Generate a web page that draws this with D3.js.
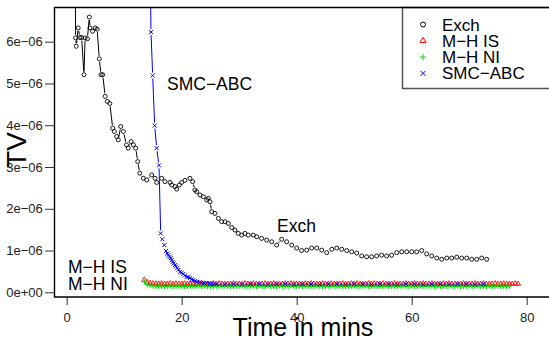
<!DOCTYPE html>
<html>
<head>
<meta charset="utf-8">
<script src="https://cdn.jsdelivr.net/npm/d3@7"></script>
<style>
  body { margin: 0; background: #fff; }
  text { font-family: "Liberation Sans", Arial, Helvetica, sans-serif; }
</style>
</head>
<body>
<div id="chart"></div>
<script>
// TV values are in units of 1e-06
const exchTime = [1.45,1.55,1.67,2.0,2.3,2.6,3.0,3.2,3.6,3.93,
  4.05,4.5,4.97,5.3,5.67,5.97,6.26,6.7,7.06,7.5,
  8.0,8.28,8.7,8.97,9.4,9.85,10.4,10.7,11.2,11.6,
  12.0,12.35,12.7,13.32,13.91,14.78,15.36,15.65,16.52,17.1,
  17.97,18.26,18.83,19.13,19.58,20.0,20.57,21.44,21.9,22.3,
  22.6,23.18,23.76,24.35,24.63,24.92,25.22,25.79,26.37,26.96,
  27.53,28.1,28.7,29.27,29.84,30.43,31.0,31.58,32.45,33.04,
  33.9,34.78,35.65,36.52,37.39,38.26,39.13,40.0,40.87,41.74,
  42.6,43.48,44.35,45.22,46.1,46.96,47.83,48.7,49.57,50.43,
  51.3,52.17,53.04,53.9,54.78,55.65,56.52,57.4,58.26,59.13,
  60.0,60.87,61.74,62.6,63.48,64.35,65.22,66.1,66.96,67.83,
  68.7,69.57,70.43,71.3,72.17,73.04];
const exchTV = [9.0,6.09,5.89,6.33,6.10,6.10,5.21,6.09,6.07,6.59,
  6.33,6.25,6.33,6.30,5.59,5.21,5.21,4.69,4.57,4.52,
  3.93,3.85,3.73,3.65,3.97,3.85,3.53,3.45,3.61,3.53,
  3.45,3.13,2.85,2.73,2.69,2.81,2.73,2.63,2.73,2.65,
  2.63,2.57,2.53,2.47,2.57,2.63,2.68,2.73,2.65,2.45,
  2.41,2.33,2.29,2.21,2.25,2.17,1.93,1.89,1.77,1.69,
  1.69,1.65,1.55,1.49,1.41,1.37,1.41,1.37,1.37,1.33,
  1.29,1.25,1.21,1.13,1.27,1.21,1.13,1.06,1.0,1.01,
  1.06,1.06,1.01,0.95,1.03,1.06,1.03,1.0,0.97,0.94,
  0.87,0.85,0.85,0.87,0.89,0.87,0.89,0.95,0.97,0.97,
  0.97,0.97,1.0,0.92,0.87,0.82,0.79,0.82,0.82,0.84,
  0.82,0.82,0.79,0.79,0.82,0.79];

const smcTime = [14.5,14.66,14.95,15.3,15.65,16.05,16.35,16.63,16.98,17.27,
  17.5,17.67,17.9,18.09,18.25,18.43,18.6,18.83,19.0,19.23,
  19.45,19.7,20.0,20.28,20.55,20.87,21.15,21.44,21.7,22.0,
  22.35,22.7,23.1,23.48,23.9,24.35,24.8,25.2,25.65,26.1,
  27.5,29,30.5,32,33.5,35,36.5,38,39.5,41,
  42.5,44,45.5,47,48.5,50,51.5,53,54.5,56,
  57.5,59,60.5,62,63.5,65,66.5,68,69.5,71,72.5];
const smcTV = [8.0,6.23,5.19,3.99,3.45,3.04,1.41,1.27,1.13,0.99,
  0.93,0.89,0.85,0.82,0.77,0.73,0.69,0.65,0.62,0.58,
  0.54,0.49,0.47,0.44,0.40,0.37,0.36,0.34,0.31,0.29,
  0.27,0.25,0.24,0.23,0.22,0.22,0.21,0.20,0.20,0.20,
  0.19,0.2,0.19,0.2,0.2,0.19,0.2,0.2,0.19,0.2,
  0.2,0.19,0.2,0.2,0.19,0.2,0.2,0.19,0.2,0.2,
  0.19,0.2,0.2,0.19,0.2,0.2,0.19,0.2,0.2,0.19,0.2];

const mhTime = [13.5,14,14.5,15,15.5,16,16.5,17,17.5,18,
  18.5,19,19.5,20,20.5,21,21.5,22,22.5,23,
  23.5,24,24.5,25,25.5,26,26.5,27,27.5,28,
  28.5,29,29.5,30,30.5,31,31.5,32,32.5,33,
  33.5,34,34.5,35,35.5,36,36.5,37,37.5,38,
  38.5,39,39.5,40,40.5,41,41.5,42,42.5,43,
  43.5,44,44.5,45,45.5,46,46.5,47,47.5,48,
  48.5,49,49.5,50,50.5,51,51.5,52,52.5,53,
  53.5,54,54.5,55,55.5,56,56.5,57,57.5,58,
  58.5,59,59.5,60,60.5,61,61.5,62,62.5,63,
  63.5,64,64.5,65,65.5,66,66.5,67,67.5,68,
  68.5,69,69.5,70,70.5,71,71.5,72,72.5,73,
  73.5,74,74.5,75,75.5,76,76.5,77,77.5,78,78.5];
const mhIsTV = [0.30,0.24,0.22,0.21,0.21,0.20,0.21,0.20,0.20,0.21,
  0.20,0.21,0.20,0.20,0.21,0.20,0.20,0.21,0.20,0.20,
  0.21,0.20,0.20,0.20,0.21,0.20,0.21,0.20,0.20,0.20,
  0.20,0.21,0.20,0.20,0.20,0.21,0.20,0.20,0.21,0.20,
  0.20,0.20,0.21,0.20,0.20,0.21,0.20,0.20,0.20,0.21,
  0.20,0.21,0.20,0.20,0.20,0.20,0.21,0.20,0.21,0.20,
  0.20,0.20,0.21,0.20,0.20,0.21,0.20,0.20,0.20,0.21,
  0.20,0.20,0.21,0.20,0.21,0.20,0.20,0.20,0.21,0.20,
  0.21,0.20,0.20,0.21,0.20,0.20,0.20,0.21,0.20,0.20,
  0.20,0.21,0.20,0.20,0.21,0.20,0.20,0.21,0.20,0.20,
  0.21,0.20,0.20,0.20,0.21,0.20,0.21,0.20,0.20,0.20,
  0.20,0.21,0.20,0.20,0.20,0.21,0.20,0.20,0.21,0.20,
  0.20,0.20,0.21,0.20,0.20,0.21,0.20,0.20,0.20,0.21,0.20];
const mhNiTV = [0.25,0.18,0.16,0.15,0.15,0.14,0.15,0.14,0.14,0.15,
  0.14,0.14,0.15,0.14,0.14,0.14,0.15,0.14,0.14,0.15,
  0.14,0.15,0.14,0.14,0.14,0.15,0.14,0.14,0.15,0.14,
  0.14,0.14,0.15,0.14,0.15,0.14,0.14,0.14,0.15,0.14,
  0.15,0.14,0.14,0.15,0.14,0.14,0.14,0.15,0.14,0.14,
  0.14,0.15,0.14,0.14,0.15,0.14,0.15,0.14,0.14,0.14,
  0.15,0.14,0.14,0.14,0.15,0.14,0.14,0.15,0.14,0.14,
  0.14,0.15,0.14,0.15,0.14,0.14,0.14,0.15,0.14,0.14,
  0.15,0.14,0.14,0.14,0.15,0.14,0.14,0.15,0.14,0.15,
  0.14,0.14,0.14,0.15,0.14,0.14,0.15,0.14,0.14,0.14,
  0.15,0.14,0.15,0.14,0.14,0.14,0.15,0.14,0.14,0.15,
  0.14,0.14,0.14,0.15,0.14,0.14,0.15,0.14,0.14,0.14,
  0.15,0.14,0.14,0.15,0.14,0.14,0.14,0.15];

const xTicks = [0, 20, 40, 60, 80];
const yTicks = [0, 1, 2, 3, 4, 5, 6];
const yTickLabels = ['0e+00', '1e\u221206', '2e\u221206', '3e\u221206', '4e\u221206', '5e\u221206', '6e\u221206'];
const legendLabels = ['Exch', 'M\u2212H IS', 'M\u2212H NI', 'SMC\u2212ABC'];

const zip = (ts, vs) => vs.map((v, i) => ({t: ts[i], v: v}));
const exch = zip(exchTime, exchTV);
const smc = zip(smcTime, smcTV);
const mhIs = zip(mhTime, mhIsTV);
const mhNi = zip(mhTime, mhNiTV);

const width = 549, height = 338;
const box = {left: 54.5, right: 552, top: 7.5, bottom: 297};

const x = d3.scaleLinear().domain([0, 80]).range([66.7, 526.7]);
const y = d3.scaleLinear().domain([0, 6]).range([292.3, 41.7]);

const svg = d3.select('#chart').append('svg')
  .attr('width', width)
  .attr('height', height)
  .style('display', 'block');

svg.append('rect').attr('width', width).attr('height', height).attr('fill', '#fff');

svg.append('clipPath').attr('id', 'plotClip')
  .append('rect')
  .attr('x', box.left).attr('y', box.top)
  .attr('width', box.right - box.left).attr('height', box.bottom - box.top);

const plot = svg.append('g').attr('clip-path', 'url(#plotClip)');

// type="b" style lines: segments with a gap around each point
function gapSegments(data, gap) {
  const pts = data.map(d => [x(d.t), y(d.v)]);
  const segs = [];
  for (let i = 1; i < pts.length; i++) {
    const [x0, y0] = pts[i - 1], [x1, y1] = pts[i];
    const dx = x1 - x0, dy = y1 - y0, len = Math.hypot(dx, dy);
    if (len > 2 * gap) {
      const ux = dx / len, uy = dy / len;
      segs.push([x0 + ux * gap, y0 + uy * gap, x1 - ux * gap, y1 - uy * gap]);
    }
  }
  return segs;
}

function drawLine(data, color) {
  plot.append('g').selectAll('line')
    .data(gapSegments(data, 3))
    .enter().append('line')
    .attr('x1', d => d[0]).attr('y1', d => d[1])
    .attr('x2', d => d[2]).attr('y2', d => d[3])
    .attr('stroke', color)
    .attr('stroke-width', 1);
}

const triPath = d3.symbol(d3.symbolTriangle).size(11)();
const plusPath = 'M-2.6,0H2.6M0,-2.6V2.6';
const crossPath = 'M-2,-2L2,2M-2,2L2,-2';

function drawMarks(data, path, color, sw) {
  plot.append('g').selectAll('path')
    .data(data)
    .enter().append('path')
    .attr('transform', d => `translate(${x(d.t)},${y(d.v)})`)
    .attr('d', path)
    .attr('fill', 'none')
    .attr('stroke', color)
    .attr('stroke-width', sw);
}

// Exch
drawLine(exch, '#000');
plot.append('g').selectAll('circle')
  .data(exch)
  .enter().append('circle')
  .attr('cx', d => x(d.t))
  .attr('cy', d => y(d.v))
  .attr('r', 2)
  .attr('fill', 'none')
  .attr('stroke', '#000')
  .attr('stroke-width', 0.9);

// M-H IS, M-H NI
drawMarks(mhIs, triPath, '#ff0000', 0.9);
drawMarks(mhNi, plusPath, '#00e000', 1);

// SMC-ABC
drawLine(smc, '#0000ff');
drawMarks(smc, crossPath, '#0000ff', 1);

// axes
const yAxis = svg.append('g')
  .attr('transform', `translate(${box.left},0)`)
  .call(d3.axisLeft(y).tickValues(yTicks).tickSize(9.5).tickPadding(2.3)
    .tickFormat((d, i) => yTickLabels[i]));
yAxis.select('.domain').remove();
yAxis.selectAll('line').attr('stroke', '#333');
yAxis.selectAll('text').attr('font-size', 13).attr('fill', '#222');

const xAxis = svg.append('g')
  .attr('transform', `translate(0,${box.bottom})`)
  .call(d3.axisBottom(x).tickValues(xTicks).tickSize(8).tickPadding(7.5));
xAxis.select('.domain').remove();
xAxis.selectAll('line').attr('stroke', '#333');
xAxis.selectAll('text').attr('font-size', 13).attr('fill', '#222');

// legend
const legend = svg.append('g');
legend.append('rect')
  .attr('x', 402.5).attr('y', box.top)
  .attr('width', 170).attr('height', 81)
  .attr('fill', '#fff')
  .attr('stroke', '#555')
  .attr('stroke-width', 1.5);

const legendColors = ['#000', '#ff0000', '#00e000', '#0000ff'];
const legendPaths = [null, d3.symbol(d3.symbolTriangle).size(16)(), 'M-3.2,0H3.2M0,-3.2V3.2', 'M-2.5,-2.5L2.5,2.5M-2.5,2.5L2.5,-2.5'];
legendLabels.forEach((label, i) => {
  const cy = 24.5 + i * 16.3;
  if (i === 0) {
    legend.append('circle').attr('cx', 423).attr('cy', cy).attr('r', 2.5)
      .attr('fill', 'none').attr('stroke', '#000').attr('stroke-width', 1);
  } else {
    legend.append('path').attr('transform', `translate(423,${cy})`)
      .attr('d', legendPaths[i]).attr('fill', 'none')
      .attr('stroke', legendColors[i]).attr('stroke-width', 1);
  }
  legend.append('text').attr('x', 442).attr('y', cy + 6)
    .attr('font-size', 17).attr('fill', '#000').text(label);
});

// plot box (left, top, bottom)
svg.append('path')
  .attr('d', `M${box.right},${box.top}H${box.left}V${box.bottom}H${box.right}`)
  .attr('fill', 'none')
  .attr('stroke', '#000')
  .attr('stroke-width', 1.4);

// in-plot labels
const notes = [
  {text: 'SMC\u2212ABC', x: 167, y: 90},
  {text: 'Exch', x: 277, y: 232},
  {text: 'M\u2212H IS', x: 68, y: 272.5},
  {text: 'M\u2212H NI', x: 68, y: 290}
];
svg.append('g').selectAll('text')
  .data(notes)
  .enter().append('text')
  .attr('x', d => d.x).attr('y', d => d.y)
  .attr('font-size', 17.5).attr('fill', '#000')
  .text(d => d.text);

// axis titles
svg.append('text')
  .attr('x', 303).attr('y', 336)
  .attr('text-anchor', 'middle')
  .attr('font-size', 25).attr('fill', '#000')
  .text('Time in mins');

svg.append('text')
  .attr('transform', 'translate(26,150) rotate(-90)')
  .attr('text-anchor', 'middle')
  .attr('font-size', 28).attr('fill', '#000')
  .text('TV');
</script>
</body>
</html>
